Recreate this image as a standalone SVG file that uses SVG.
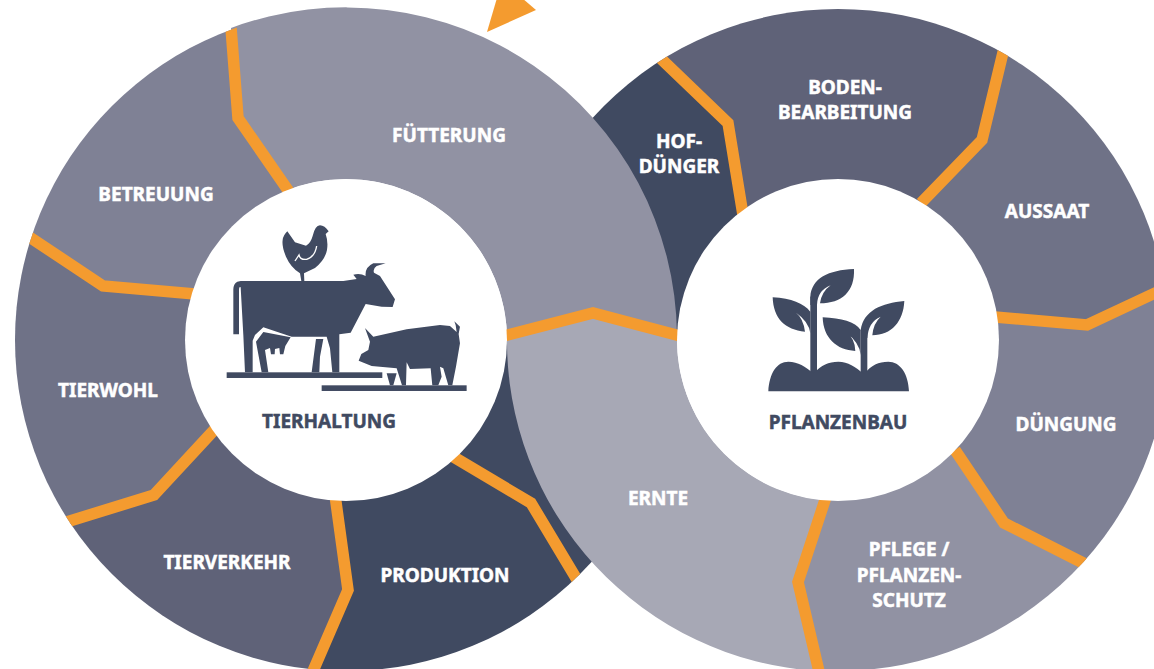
<svg xmlns="http://www.w3.org/2000/svg" width="1154" height="669" viewBox="0 0 1154 669">
<style>
.l{font-family:"Noto Sans","Liberation Sans",sans-serif;font-weight:700;font-size:19px;fill:#fff;text-anchor:middle;stroke:#fff;stroke-width:.5px}
.t{fill:#404a61;stroke:#404a61}
.d{fill:#404a61}
.s{fill:none;stroke:#f49b2f;stroke-width:11.5;stroke-linejoin:miter}
.hub{fill:#fff}
</style>
<defs>
<clipPath id="cl"><circle cx="346" cy="340" r="331"/></clipPath>
<clipPath id="cr"><circle cx="838" cy="340" r="331"/></clipPath>
</defs>
<rect width="1154" height="669" fill="#fff"/>
<g clip-path="url(#cl)">
<path id="seg-betreuung" fill="#7f8195" d="M346 340L288 190L238 118L231 0L-20 0L-20 205L30 237L103 286L193 294Z"/>
<path id="seg-tierwohl" fill="#6f7287" d="M346 340L193 294L103 286L30 237L-20 205L-20 540L68 522L154 495L214 430Z"/>
<path id="seg-tierverkehr" fill="#5f6278" d="M346 340L214 430L154 495L68 522L-20 550L-20 700L300 700L314 669L348 590L335 500Z"/>
<path id="seg-produktion" fill="#404a61" d="M346 340L335 500L348 590L314 669L300 700L700 700L700 340Z"/>
</g>
<g clip-path="url(#cr)">
<path id="seg-hof" fill="#404a61" d="M838 340L743 213L728 123L662 60L620 20L480 20L480 340Z"/>
<path id="seg-boden" fill="#5f6278" d="M838 340L743 213L728 123L662 60L620 0L1010 0L1004 50L982 140L921 203Z"/>
<path id="seg-aussaat" fill="#6f7287" d="M838 340L921 203L982 140L1004 50L1015 0L1200 0L1200 271L1154 293L1087 325L999 317Z"/>
<path id="seg-duengung" fill="#7f8195" d="M838 340L999 317L1087 325L1154 293L1200 271L1200 620L1083 563L1004 523L955 450Z"/>
<path id="seg-pflege" fill="#9192a3" d="M838 340L955 450L1004 523L1083 563L1200 620L1200 700L828 700L818 669L798 582L825 500Z"/>
</g>
<g id="connectors">
<g clip-path="url(#cr)">
<polyline class="s" points="655,53 728,123 743,215"/>
<polyline class="s" points="1006,40 982,140 921,203"/>
<polyline class="s" points="995,317 1087,325 1170,286"/>
<polyline class="s" points="955,450 1004,523 1095,569"/>
</g>
</g>
<path id="seg-fuetterung" fill="#9192a3" d="M231 28A331 331 0 0 1 677 335L593 313L507 335A161 161 0 0 0 288 190L238 118Z"/>
<path id="seg-ernte" fill="#a7a8b5" d="M507 335L593 313L677 335A161 161 0 0 0 825 500L798 582L818 671A331 331 0 0 1 507 335Z"/>
<g id="connectors-2">
<g clip-path="url(#cl)">
<polyline class="s" points="230,15 238,118 292,196"/>
<polyline class="s" points="25,234 103,286 195,294"/>
<polyline class="s" points="60,524 154,495 216,428"/>
<polyline class="s" points="335,495 348,590 310,678"/>
<polyline class="s" points="452,456 531,503 582,588"/>
</g>
<g clip-path="url(#cr)">
<polyline class="s" points="827,494 798,582 821,680"/>
</g>
<polyline class="s" points="500,337 593,313 684,337"/>
</g>
<polygon fill="#f49b2f" points="487,32 536,10 522,-2 497,-2"/>
<g id="tierhaltung">
<circle class="hub" cx="346" cy="340" r="161"/>
<g class="d" transform="translate(200 210) scale(.3333)">
<path d="M100 373V238Q100 222 112 215L122 213H430L470 207L460 194Q480 188 497 198Q494 172 520 160L557 160L530 168Q518 176 522 188L540 198L585 268L578 291L545 290L497 282L452 368L418 373V487H397L390 415L380 380H275L190 352L165 375L158 392V487H135L130 375L122 232Q117 228 117 240V373Z"/>
<path d="M168 395L190 366L272 382L256 408L250 433H240L238 414L225 417L224 433H213L210 414L195 420L205 487H185Z"/>
<path d="M348 387H370L360 440L358 487H335Z"/>
<rect x="80" y="487" width="467" height="17"/>
<rect x="365" y="526" width="435" height="17"/>
<path d="M262 64L285 97L318 107Q332 100 338 78Q345 47 360 46Q374 46 386 64L377 72Q385 95 381 120Q375 150 345 174L312 190L313 213H304L300 190Q272 172 258 140Q245 110 248 90Q250 75 262 64Z"/>
<path d="M285 153L297 135Q300 150 320 148Q345 140 350 108" fill="none" stroke="#fff" stroke-width="4"/>
<path d="M495 354L520 380L620 358L720 345L750 348L770 366L767 345L763 334L780 350L776 372L780 400L768 470L757 526H745L730 475L720 470L725 500L715 526H697L692 475L630 477L620 457L618 526H606L590 475L515 468L476 452L484 432L505 420L510 395Z"/>
<path d="M560 490H590L580 526H570Z"/>
</g>
<text class="l t" x="329" y="428">TIERHALTUNG</text>
</g>
<g id="pflanzenbau">
<circle class="hub" cx="838" cy="340" r="161"/>
<g class="d" transform="translate(740 250) scale(.3333)">
<path d="M342 57C345 125 305 160 240 160Q245 125 272 106Q232 122 231 165L211 165V140C215 85 265 60 342 57Z"/>
<path d="M98 142C155 145 190 160 211 185V250Q207 215 168 188Q190 205 195 245C135 240 100 205 98 142Z"/>
<path d="M248 202C305 205 345 215 362 240V315Q360 280 318 247Q345 265 346 303C290 300 250 265 248 202Z"/>
<path d="M493 153C425 160 372 180 362 240L382 265Q385 215 422 200Q400 220 397 256C455 255 490 215 493 153Z"/>
<rect x="211" y="140" width="20" height="235"/>
<rect x="362" y="240" width="20" height="135"/>
<path d="M85 424C88 370 110 335 145 335C175 335 195 350 221 370C245 345 265 335 295 335C325 335 345 350 372 372C395 345 415 335 445 335C480 335 505 370 507 424Z"/>
</g>
<text class="l t" x="838" y="429">PFLANZENBAU</text>
</g>
<text class="l" x="449" y="142">FÜTTERUNG</text>
<text class="l" x="156" y="201">BETREUUNG</text>
<text class="l" x="108" y="397">TIERWOHL</text>
<text class="l" x="227" y="569">TIERVERKEHR</text>
<text class="l" x="445" y="582">PRODUKTION</text>
<text class="l" x="679" y="148">HOF-</text>
<text class="l" x="679" y="173">DÜNGER</text>
<text class="l" x="845" y="94">BODEN-</text>
<text class="l" x="845" y="119">BEARBEITUNG</text>
<text class="l" x="1047" y="218">AUSSAAT</text>
<text class="l" x="1066" y="431">DÜNGUNG</text>
<text class="l" x="658" y="505">ERNTE</text>
<text class="l" x="909" y="556">PFLEGE /</text>
<text class="l" x="909" y="582">PFLANZEN-</text>
<text class="l" x="909" y="607">SCHUTZ</text>
</svg>
